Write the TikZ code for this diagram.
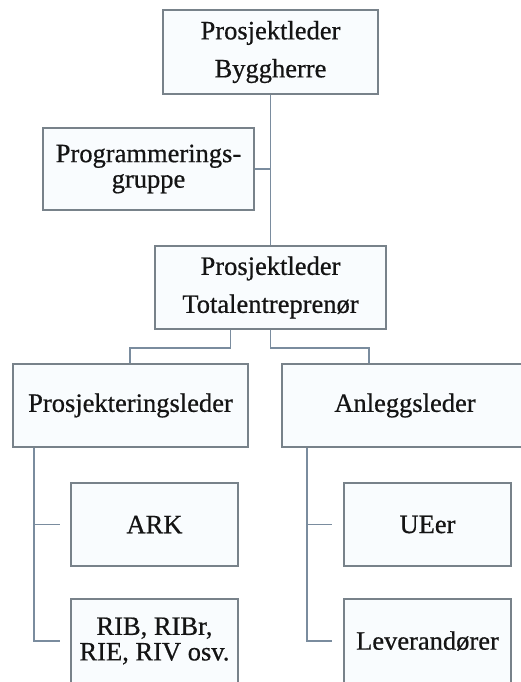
\documentclass[tikz,border=0pt]{standalone}
\usepackage{fontspec}
\setmainfont{Liberation Serif}[FakeBold=0.6]
\definecolor{boxline}{RGB}{120,130,138}
\definecolor{conline}{RGB}{122,140,158}
\definecolor{boxfill}{RGB}{249,252,254}
\definecolor{txt}{RGB}{20,20,20}
\begin{document}
\begin{tikzpicture}[x=1pt,y=-1pt,
  orgbox/.style={draw=boxline,line width=1.6pt,fill=boxfill,inner sep=0pt,
    align=center,text=txt,font=\fontsize{26.5}{38}\selectfont},
  tightbox/.style={orgbox,font=\fontsize{26.5}{25.5}\selectfont},
  con/.style={draw=conline,line width=1.8pt}]
\useasboundingbox (0,0) rectangle (520,682);
\node[orgbox,minimum width=215pt,minimum height=84pt] (top) at (270.5,52) {Prosjektleder\\Byggherre};
\node[tightbox,minimum width=211pt,minimum height=82pt] (prog) at (148.5,169) {Programmerings-\\gruppe};
\node[orgbox,minimum width=231pt,minimum height=83pt] (tot) at (270.5,287.5) {Prosjektleder\\Totalentreprenør};
\node[orgbox,minimum width=235pt,minimum height=83pt] (pl) at (130.5,405.5) {Prosjekteringsleder};
\node[orgbox,minimum width=246pt,minimum height=83pt] (al) at (405,405.5) {Anleggsleder};
\node[orgbox,minimum width=167pt,minimum height=83pt] (ark) at (154.5,524.5) {ARK};
\node[tightbox,minimum width=167pt,minimum height=84pt] (rib) at (154.5,641) {RIB, RIBr,\\RIE, RIV osv.};
\node[orgbox,minimum width=167pt,minimum height=83pt] (ue) at (427.5,524.5) {UEer};
\node[orgbox,minimum width=167pt,minimum height=84pt] (lev) at (427.5,641) {Leverandører};
% trunk
\draw[con] (top.south) -- (tot.north);
\draw[con] (prog.east) -- (prog.east -| top.south);
% to second level
\draw[con] ([xshift=-40pt]tot.south) -- ++(0,18) -| ([xshift=-0.5pt]pl.north);
\draw[con] (tot.south) -- ++(0,18) -| ([xshift=88pt]al.north west);
% sub trunks
\coordinate (pltr) at ([xshift=22pt]pl.south west);
\coordinate (altr) at ([xshift=26pt]al.south west);
\draw[con] (pltr) |- ([xshift=-10pt]rib.west);
\draw[con] (pltr |- ark.west) -- ([xshift=-10pt]ark.west);
\draw[con] (altr) |- ([xshift=-11pt]lev.west);
\draw[con] (altr |- ue.west) -- ([xshift=-11pt]ue.west);
\end{tikzpicture}
\end{document}
